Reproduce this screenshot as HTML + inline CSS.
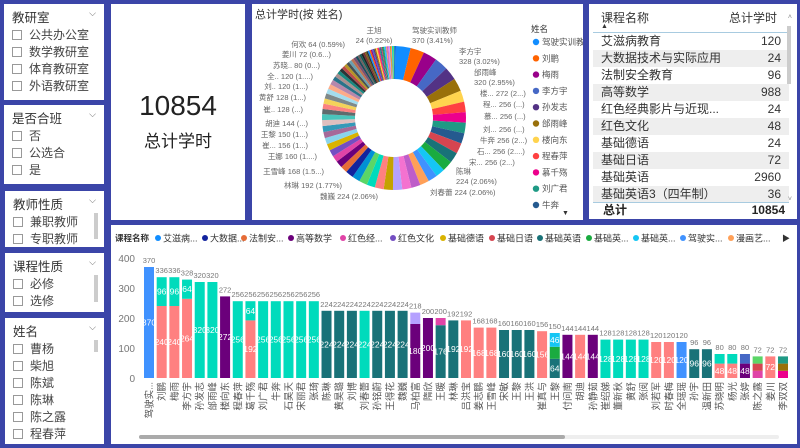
<!DOCTYPE html>
<html><head><meta charset="utf-8">
<style>
*{margin:0;padding:0;box-sizing:border-box}
body{width:800px;height:448px;background:#3b45a8;position:relative;overflow:hidden;font-family:"Liberation Sans","Noto Sans CJK SC",sans-serif;color:#252423}
.p{position:absolute;background:#fff}
.sl .t{position:absolute;left:8px;top:3px;font-size:12.5px;color:#333}
.sl .v{position:absolute;right:8px;top:4px;font-size:9px;color:#666}
.it{position:absolute;left:8px;font-size:12px;color:#444;white-space:nowrap}
.it i{display:inline-block;width:10px;height:10px;border:1px solid #999;margin-right:7px;vertical-align:-1px}
.sb{position:absolute;right:6px;width:4px;background:#ccc}
.tb{position:absolute;left:0;width:196px;height:17px;font-size:12px;color:#333;line-height:17px}
.tb span{position:absolute;left:8px;top:0}
.tb b{position:absolute;right:8px;top:0;font-weight:normal}
</style></head><body>

<div class="p sl" style="left:4px;top:4px;width:100px;height:96px">
<div class="t">教研室</div><div class="v">⌵</div>
<div class="it" style="top:22px"><i></i>公共办公室</div>
<div class="it" style="top:39px"><i></i>数学教研室</div>
<div class="it" style="top:56px"><i></i>体育教研室</div>
<div class="it" style="top:73px"><i></i>外语教研室</div>
</div>
<div class="p sl" style="left:4px;top:105px;width:100px;height:79px">
<div class="t">是否合班</div><div class="v">⌵</div>
<div class="it" style="top:22px"><i></i>否</div>
<div class="it" style="top:39px"><i></i>公选合</div>
<div class="it" style="top:56px"><i></i>是</div>
</div>
<div class="p sl" style="left:5px;top:191px;width:99px;height:56px;overflow:hidden">
<div class="t">教师性质</div><div class="v">⌵</div>
<div class="it" style="top:22px"><i></i>兼职教师</div>
<div class="it" style="top:39px"><i></i>专职教师</div>
<div class="sb" style="top:22px;height:26px"></div>
</div>
<div class="p sl" style="left:5px;top:253px;width:99px;height:59px">
<div class="t">课程性质</div><div class="v">⌵</div>
<div class="it" style="top:22px"><i></i>必修</div>
<div class="it" style="top:39px"><i></i>选修</div>
<div class="sb" style="top:22px;height:27px"></div>
</div>
<div class="p sl" style="left:5px;top:318px;width:99px;height:126px;overflow:hidden">
<div class="t">姓名</div><div class="v">⌵</div>
<div class="it" style="top:22px"><i></i>曹杨</div>
<div class="it" style="top:39px"><i></i>柴旭</div>
<div class="it" style="top:56px"><i></i>陈斌</div>
<div class="it" style="top:73px"><i></i>陈琳</div>
<div class="it" style="top:90px"><i></i>陈之露</div>
<div class="it" style="top:107px"><i></i>程春萍</div>
<div class="sb" style="top:22px;height:12px"></div>
</div>

<div class="p" style="left:111px;top:4px;width:134px;height:216px">
<div style="position:absolute;left:0;width:134px;top:86px;text-align:center;font-size:28px;color:#222">10854</div>
<div style="position:absolute;left:0;width:134px;top:123px;text-align:center;font-size:17px;color:#222">总计学时</div>
</div>

<div class="p" style="left:252px;top:4px;width:331px;height:216px">
<svg width="331" height="216" id="donut" style="position:absolute;left:0;top:0"></svg>
</div>

<div class="p" style="left:589px;top:4px;width:208px;height:215px">
<div style="position:absolute;left:12px;top:5px;font-size:12px;color:#333">课程名称</div>
<div style="position:absolute;left:12px;top:19px;font-size:7px;color:#333">▲</div>
<div style="position:absolute;right:20px;top:5px;font-size:12px;color:#333">总计学时</div>
<div style="position:absolute;left:4px;top:28px;width:196px;height:1px;background:#a8cbe0"></div>
<div style="position:absolute;left:4px;top:29px;width:196px">
<div class="tb" style="top:0px"><span>艾滋病教育</span><b>120</b></div>
<div class="tb" style="top:17px;background:#eee"><span>大数据技术与实际应用</span><b>24</b></div>
<div class="tb" style="top:34px"><span>法制安全教育</span><b>96</b></div>
<div class="tb" style="top:51px;background:#eee"><span>高等数学</span><b>988</b></div>
<div class="tb" style="top:68px"><span>红色经典影片与近现...</span><b>24</b></div>
<div class="tb" style="top:85px;background:#eee"><span>红色文化</span><b>48</b></div>
<div class="tb" style="top:102px"><span>基础德语</span><b>24</b></div>
<div class="tb" style="top:119px;background:#eee"><span>基础日语</span><b>72</b></div>
<div class="tb" style="top:136px"><span>基础英语</span><b>2960</b></div>
<div class="tb" style="top:153px;background:#eee"><span>基础英语3（四年制）</span><b>36</b></div>
</div>
<div style="position:absolute;left:4px;top:198px;width:196px;height:1px;background:#a8cbe0"></div>
<div style="position:absolute;left:14px;top:198px;font-size:12px;font-weight:bold;line-height:17px">总计</div>
<div style="position:absolute;right:12px;top:198px;font-size:12px;font-weight:bold;line-height:17px">10854</div>
<div style="position:absolute;right:5px;top:10px;font-size:7px;color:#888">˄</div>
<div style="position:absolute;right:6px;top:22px;width:4px;height:58px;background:#ccc"></div>
<div style="position:absolute;right:5px;top:192px;font-size:7px;color:#888">˅</div>
</div>

<div class="p" style="left:111px;top:225px;width:686px;height:219px">
<svg width="686" height="219" id="bars" style="position:absolute;left:0;top:0"></svg>
</div>

<script>
var NS="http://www.w3.org/2000/svg";
function el(p,n,a,t){var e=document.createElementNS(NS,n);for(var k in a)e.setAttribute(k,a[k]);if(t!=null)e.textContent=t;p.appendChild(e);return e;}
var T='#00DBBC',S='#FF8080',D='#197278',P='#6B007B',B='#4092FF';
var data=[
['驾驶实...',[[370,B]]],['刘鹏',[[240,S],[96,T]]],['梅雨',[[240,S],[96,T]]],['李方宇',[[264,S],[64,T]]],
['孙发志',[[320,T]]],['邰雨峰',[[320,T]]],['楼向东',[[272,P]]],['程春萍',[[256,T]]],['葛千殇',[[192,S],[64,T]]],
['刘广君',[[256,T]]],['牛奔',[[256,T]]],['石昊天',[[256,T]]],['宋丽君',[[256,T]]],['张琦',[[256,T]]],
['陈琳',[[224,D]]],['黄昊璐',[[224,D]]],['刘博',[[224,D]]],['刘春蕾',[[224,T]]],['孙铭蔚',[[224,D]]],['王得花',[[224,D]]],['魏巍',[[224,D]]],
['马柏富',[[180,P],[38,'#B5A1FF']]],['隋欣',[[200,P]]],['王暖',[[176,D],[24,'#E044A7']]],['林琳',[[192,D]]],
['吕洪宝',[[192,S]]],['姜志鹏',[[168,S]]],['王雪峰',[[168,S]]],['宋敏',[[160,D]]],['王黎',[[160,D]]],['王洪',[[160,D]]],
['崔真与',[[156,S]]],['王黎',[[64,D],[40,'#1AAB40'],[46,'#15C6F4']]],['付问南',[[144,P]]],['胡迪',[[144,S]]],['孙静茹',[[144,P]]],
['崔绍娣',[[128,T]]],['董新秋',[[128,T]]],['黄舒',[[128,T]]],['张阅',[[128,T]]],['刘若军',[[120,S]]],['时春梅',[[120,S]]],
['全瑶瑶',[[120,B]]],['孙宇',[[96,D]]],['温新田',[[96,D]]],['苏晓明',[[48,S],[32,T]]],['杨光',[[48,S],[32,T]]],
['张婷',[[48,P],[32,'#4668C5']]],['陈之露',[[24,'#E044A7'],[24,'#D64550'],[24,'#5BD667']]],['姜川',[[72,S]]],
['李双双',[[24,'#EC008C'],[24,'#99700A'],[24,'#1F9A85']]]];
var s=document.getElementById('bars');
el(s,'text',{x:4,y:16,'font-size':8.5,'font-weight':'bold',fill:'#333'},'课程名称');
var lg=[['艾滋病...','#118DFF',47],['大数据...','#12239E',94],['法制安...','#E66C37',133],['高等数学','#6B007B',180],['红色经...','#E044A7',232],['红色文化','#744EC2',282],['基础德语','#D9B300',332],['基础日语','#D64550',381],['基础英语','#197278',429],['基础英...','#1AAB40',478],['基础英...','#15C6F4',525],['驾驶实...','#4092FF',572],['漫画艺...','#FFA058',620]];
lg.forEach(function(l){el(s,'circle',{cx:l[2],cy:13,r:3,fill:l[1]});el(s,'text',{x:l[2]+5,y:16.5,'font-size':9,fill:'#333'},l[0]);});
el(s,'text',{x:671,y:16,'font-size':8,fill:'#333'},'▶');
var y0=153,k=0.3;
[0,100,200,300,400].forEach(function(v){el(s,'text',{x:24,y:y0-v*k+4,'font-size':10,fill:'#777','text-anchor':'end'},v);});
data.forEach(function(d,i){
 var x=33+i*12.68,w=10,cy=y0,tot=0;
 d[1].forEach(function(sg){var h=sg[0]*k;el(s,'rect',{x:x,y:cy-h,width:w,height:h,fill:sg[1]});
  if(h>12)el(s,'text',{x:x+w/2,y:cy-h/2+3,'font-size':8.5,fill:'#fff','text-anchor':'middle'},sg[0]);
  cy-=h;tot+=sg[0];});
 el(s,'text',{x:x+w/2,y:cy-4,'font-size':7.5,fill:'#777','text-anchor':'middle'},tot);
 el(s,'text',{x:0,y:0,'font-size':9.5,fill:'#555','text-anchor':'end',transform:'translate('+(x+w/2+3.5)+','+(y0+4)+') rotate(-90)'},d[0]);
});
el(s,'rect',{x:28,y:210,width:640,height:4,rx:2,fill:'#eee'});
el(s,'rect',{x:28,y:210,width:426,height:4,rx:2,fill:'#aaa'});

var g=document.getElementById('donut');
el(g,'text',{x:3,y:14,'font-size':11,fill:'#333'},'总计学时(按 姓名)');
var pal=['#118DFF','#FF6300','#99008A','#4668C5','#533285','#99700A','#FFD34E','#FF4141','#EC008C','#1F9A85','#255A8F','#D64550','#197278','#1AAB40','#15C6F4','#4092FF','#FFA058','#BE5DC9','#F472D0','#B5A1FF','#C4A200','#FF8080','#00DBBC','#5BD667','#0091D5','#12239E','#E66C37','#6B007B','#E044A7','#744EC2','#D9B300','#8AD4EB','#A66999','#3599B8','#DFBFBF','#4AC5BB','#5F6B6D','#FB8281','#F4D25A','#7F898A','#A4DDEE','#FDAB89','#B687AC','#28738A','#A78F8F','#168980','#293537','#BB4A4A','#B59525','#475052','#6A9FB0','#BD7150','#7B4F71','#1B4D5C','#706060','#0F5C55','#1C2325','#7D3231','#796419','#303637'];
var vals=data.map(function(d){return d[1].reduce(function(a,b){return a+b[0]},0)});
var sum=vals.reduce(function(a,b){return a+b},0),rem=10854-sum;
var small=[64,64,56,48,48,48,48,40,40,40,36,32,32,32,32,32,24,24,24,24,24,24];
small.forEach(function(v){if(rem-v>=0){vals.push(v);rem-=v;}});
while(rem>0){var v=Math.min(24,rem);vals.push(v);rem-=v;}
var cx=142,cy2=114,R=72,r=39,a=0.02;
vals.forEach(function(v,i){
 var a2=a+v/10854*2*Math.PI;
 function p(rr,aa){return (cx+rr*Math.sin(aa)).toFixed(2)+','+(cy2-rr*Math.cos(aa)).toFixed(2);}
 var lf=(a2-a)>Math.PI?1:0;
 el(g,'path',{d:'M'+p(R,a)+'A'+R+','+R+' 0 '+lf+' 1 '+p(R,a2)+'L'+p(r,a2)+'A'+r+','+r+' 0 '+lf+' 0 '+p(r,a)+'Z',fill:pal[i%pal.length]});
 a=a2;});
var L=[[122,29,'王旭','middle'],[122,39,'24 (0.22%)','middle'],[160,29,'驾驶实训教师','start'],[160,39,'370 (3.41%)','start'],
[207,50,'李方宇','start'],[207,60,'328 (3.02%)','start'],[222,71,'邰雨峰','start'],[222,81,'320 (2.95%)','start'],
[228,92,'楼... 272 (2...)','start'],[231,103,'程... 256 (...)','start'],[232,115,'慕... 256 (...)','start'],[231,128,'刘... 256 (...)','start'],
[228,139,'牛奔 256 (2...)','start'],[225,150,'石... 256 (2....)','start'],[217,161,'宋... 256 (2...)','start'],
[204,170,'陈琳','start'],[204,180,'224 (2.06%)','start'],[178,191,'刘春蕾 224 (2.06%)','start'],
[126,195,'魏巍 224 (2.06%)','end'],[90,184,'林琳 192 (1.77%)','end'],[72,170,'王雪峰 168 (1.5...)','end'],
[65,155,'王娜 160 (1....)','end'],[56,144,'崔... 156 (1...)','end'],[56,133,'王黎 150 (1...)','end'],[56,122,'胡迪 144 (...)','end'],
[51,108,'崔.. 128 (...)','end'],[54,96,'黄舒 128 (1...)','end'],[56,85,'刘.. 120 (1...)','end'],[61,75,'全.. 120 (1....)','end'],
[68,64,'苏晓.. 80 (0...)','end'],[79,53,'姜川 72 (0.6...)','end'],[93,43,'何欢 64 (0.59%)','end']];
L.forEach(function(l){el(g,'text',{x:l[0],y:l[1],'font-size':7.5,fill:'#666','text-anchor':l[3]},l[2]);});
el(g,'text',{x:279,y:28,'font-size':8.5,fill:'#333'},'姓名');
var ln=['驾驶实训教师','刘鹏','梅雨','李方宇','孙发志','邰雨峰','楼向东','程春萍','慕千殇','刘广君','牛奔'];
ln.forEach(function(n,i){var y=38+i*16.3;el(g,'circle',{cx:284,cy:y,r:3.2,fill:pal[i]});el(g,'text',{x:290,y:y+3,'font-size':8.5,fill:'#555'},n);});
el(g,'text',{x:310,y:211,'font-size':7,fill:'#333'},'▼');
</script>
</body></html>
